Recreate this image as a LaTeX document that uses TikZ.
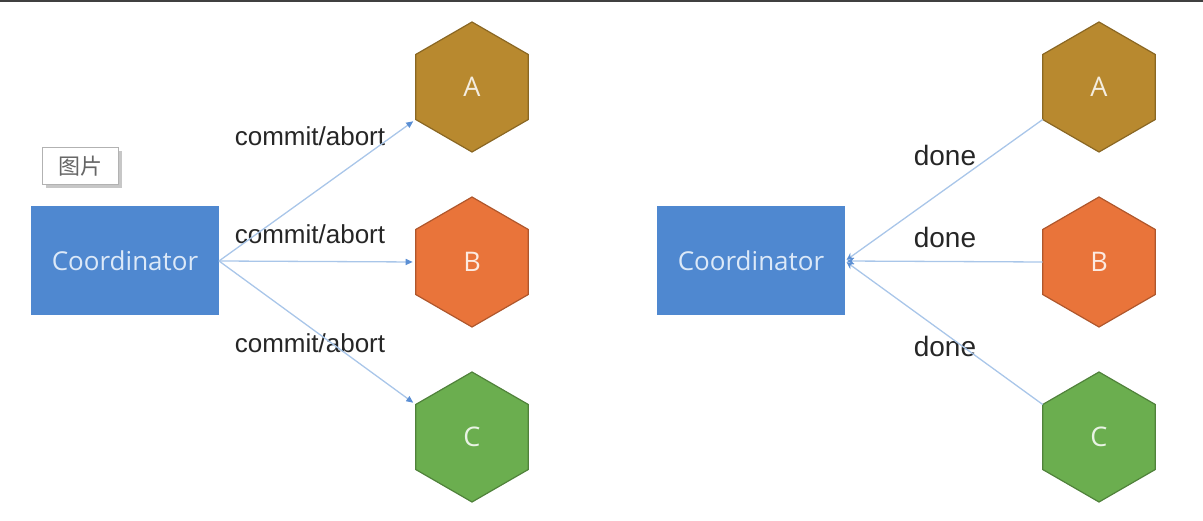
\documentclass[tikz,border=0pt]{standalone}
\usepackage{fontspec}
\setmainfont{Liberation Sans}
\newfontfamily\osans{Open Sans}
\newfontfamily\cjk{Noto Sans CJK SC}
\usepackage{tikz}
\usetikzlibrary{arrows.meta,positioning,shapes.geometric,shadows}

\definecolor{coordblue}{HTML}{4F88D0}
\definecolor{coordtext}{HTML}{DCE9F8}
\definecolor{hexgold}{HTML}{B8892F}
\definecolor{hexorange}{HTML}{E9743A}
\definecolor{hexgreen}{HTML}{6BAE4F}
\definecolor{linkblue}{HTML}{A9C6E9}
\definecolor{tipblue}{HTML}{5B8FD4}

\tikzset{
  coordbox/.style = {rectangle, fill=coordblue, minimum width=188pt, minimum height=109pt,
    inner sep=0pt, outer sep=0pt, text=coordtext, font=\osans\fontsize{26}{30}\selectfont},
  hexa/.style = {regular polygon, regular polygon sides=6, shape border rotate=30,
    minimum size=130pt, inner sep=0pt, outer sep=0pt, line width=1.2pt,
    font=\osans\fontsize{27}{30}\selectfont},
  link/.style = {draw=linkblue, line width=1.3pt},
  msg/.style = {text=black!85, font=\fontsize{26}{30}\selectfont},
  reply/.style = {text=black!85, font=\fontsize{28}{32}\selectfont},
  tagbox/.style = {rectangle, draw=black!30, fill=white, minimum width=76pt, minimum height=37pt,
    inner sep=0pt, text=black!60, font=\cjk\fontsize{22}{26}\selectfont,
    drop shadow={shadow xshift=4pt, shadow yshift=-4pt, fill=black!22, opacity=1}},
}

\begin{document}
\begin{tikzpicture}[x=1pt, y=1pt]
  \useasboundingbox (0,0) rectangle (1203,-521);
  \fill[black!75] (0,0) rectangle (1203,-2.5);

  \node[coordbox] (co) at (125,-261) {Coordinator};
  \node[hexa, fill=hexorange, draw=hexorange!75!black, text=white!85!hexorange] (B) at (472,-262) {B};
  \node[hexa, fill=hexgold, draw=hexgold!75!black, text=white!85!hexgold, above=45pt of B] (A) {A};
  \node[hexa, fill=hexgreen, draw=hexgreen!75!black, text=white!85!hexgreen, below=45pt of B] (C) {C};
  \node[tagbox] (tag) at (80,-166) {图片};

  \node[msg] (mA) at (310,-136) {commit/abort};
  \node[msg] (mB) at (310,-234) {commit/abort};
  \node[msg] (mC) at (310,-343) {commit/abort};

  \draw[link, -{Triangle[length=7pt, width=6pt, color=tipblue]}, shorten >=3pt] (co.east) -- (A.210);
  \draw[link, -{Triangle[length=7pt, width=6pt, color=tipblue]}, shorten >=3pt] (co.east) -- (B.west);
  \draw[link, -{Triangle[length=7pt, width=6pt, color=tipblue]}, shorten >=3pt] (co.east) -- (C.150);

  \node[coordbox] (rco) at (751,-261) {Coordinator};
  \node[hexa, fill=hexorange, draw=hexorange!75!black, text=white!85!hexorange] (rB) at (1099,-262) {B};
  \node[hexa, fill=hexgold, draw=hexgold!75!black, text=white!85!hexgold, above=45pt of rB] (rA) {A};
  \node[hexa, fill=hexgreen, draw=hexgreen!75!black, text=white!85!hexgreen, below=45pt of rB] (rC) {C};

  \node[reply] (dA) at (945,-155) {done};
  \node[reply] (dB) at (945,-237) {done};
  \node[reply] (dC) at (945,-346) {done};

  \draw[link, -{Stealth[length=7pt, width=7pt, color=tipblue]}, shorten >=2pt] (rA.210) -- (rco.east);
  \draw[link, -{Stealth[length=7pt, width=7pt, color=tipblue]}, shorten >=2pt] (rB.west) -- (rco.east);
  \draw[link, -{Stealth[length=7pt, width=7pt, color=tipblue]}, shorten >=2pt] (rC.150) -- (rco.east);
\end{tikzpicture}
\end{document}
